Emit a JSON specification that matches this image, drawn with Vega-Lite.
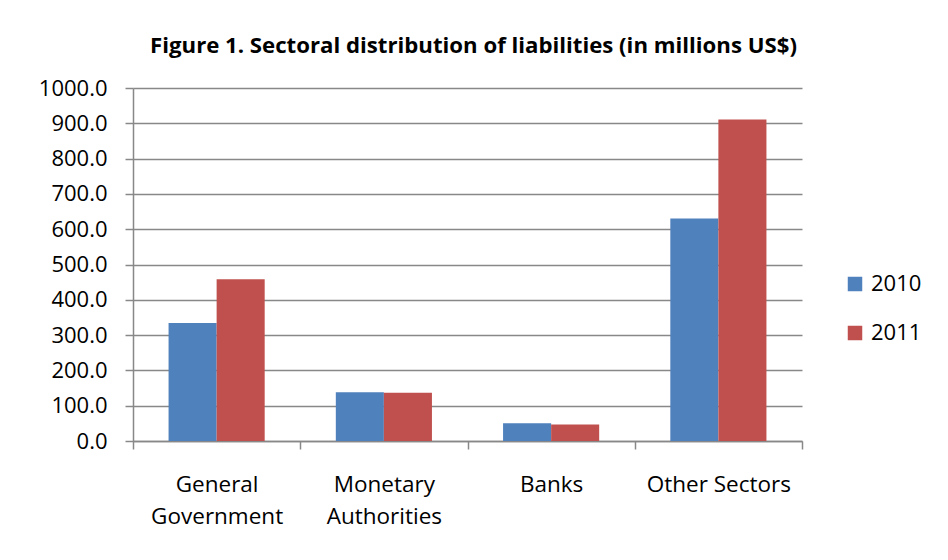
{
  "$schema": "https://vega.github.io/schema/vega-lite/v6.json",
  "width": 669,
  "height": 353,
  "autosize": {"type": "none"},
  "padding": {"left": 133, "top": 88, "right": 146, "bottom": 119},
  "background": "white",
  "title": {
    "text": "Figure 1. Sectoral distribution of liabilities (in millions US$)",
    "font": "Open Sans",
    "fontSize": 22.2,
    "fontWeight": "bold",
    "color": "black",
    "anchor": "middle",
    "dx": 6,
    "offset": 20
  },
  "data": {
    "values": [
      {"sector": "General Government", "year": "2010", "value": 334},
      {"sector": "General Government", "year": "2011", "value": 458},
      {"sector": "Monetary Authorities", "year": "2010", "value": 138},
      {"sector": "Monetary Authorities", "year": "2011", "value": 137},
      {"sector": "Banks", "year": "2010", "value": 50},
      {"sector": "Banks", "year": "2011", "value": 47},
      {"sector": "Other Sectors", "year": "2010", "value": 630},
      {"sector": "Other Sectors", "year": "2011", "value": 911}
    ]
  },
  "mark": {"type": "bar"},
  "encoding": {
    "x": {
      "field": "sector",
      "type": "nominal",
      "sort": ["General Government", "Monetary Authorities", "Banks", "Other Sectors"],
      "scale": {"paddingInner": 0, "paddingOuter": 0},
      "axis": {
        "title": null,
        "labelAngle": 0,
        "labelFont": "Open Sans",
        "labelFontSize": 22.5,
        "labelColor": "black",
        "labelLineHeight": 32,
        "labelPadding": 24,
        "labelExpr": "datum.label == 'General Government' ? ['General', 'Government'] : datum.label == 'Monetary Authorities' ? ['Monetary', 'Authorities'] : datum.label",
        "domainColor": "#888888",
        "domainWidth": 1.5,
        "tickColor": "#888888",
        "tickWidth": 1.5,
        "tickSize": 8,
        "tickBand": "extent",
        "grid": false
      }
    },
    "xOffset": {
      "field": "year",
      "type": "nominal",
      "scale": {"paddingInner": 0, "paddingOuter": 0.74}
    },
    "y": {
      "field": "value",
      "type": "quantitative",
      "scale": {"domain": [0, 1000], "nice": false},
      "axis": {
        "title": null,
        "values": [0, 100, 200, 300, 400, 500, 600, 700, 800, 900, 1000],
        "format": ".1f",
        "labelFont": "Open Sans",
        "labelFontSize": 22,
        "labelColor": "black",
        "labelPadding": 18,
        "domainColor": "#888888",
        "domainWidth": 1.5,
        "tickColor": "#888888",
        "tickWidth": 1.5,
        "tickSize": 8,
        "grid": true,
        "gridColor": "#888888",
        "gridWidth": 1.5
      }
    },
    "color": {
      "field": "year",
      "type": "nominal",
      "scale": {"range": ["#4F81BD", "#C0504D"]},
      "legend": {
        "title": null,
        "orient": "none",
        "legendX": 711,
        "legendY": 185,
        "padding": 0,
        "symbolType": "square",
        "symbolSize": 210,
        "symbolStrokeWidth": 0,
        "labelFont": "Open Sans",
        "labelFontSize": 22,
        "labelColor": "black",
        "labelOffset": 5,
        "rowPadding": 27
      }
    }
  },
  "config": {
    "font": "Open Sans",
    "view": {"stroke": null}
  }
}
